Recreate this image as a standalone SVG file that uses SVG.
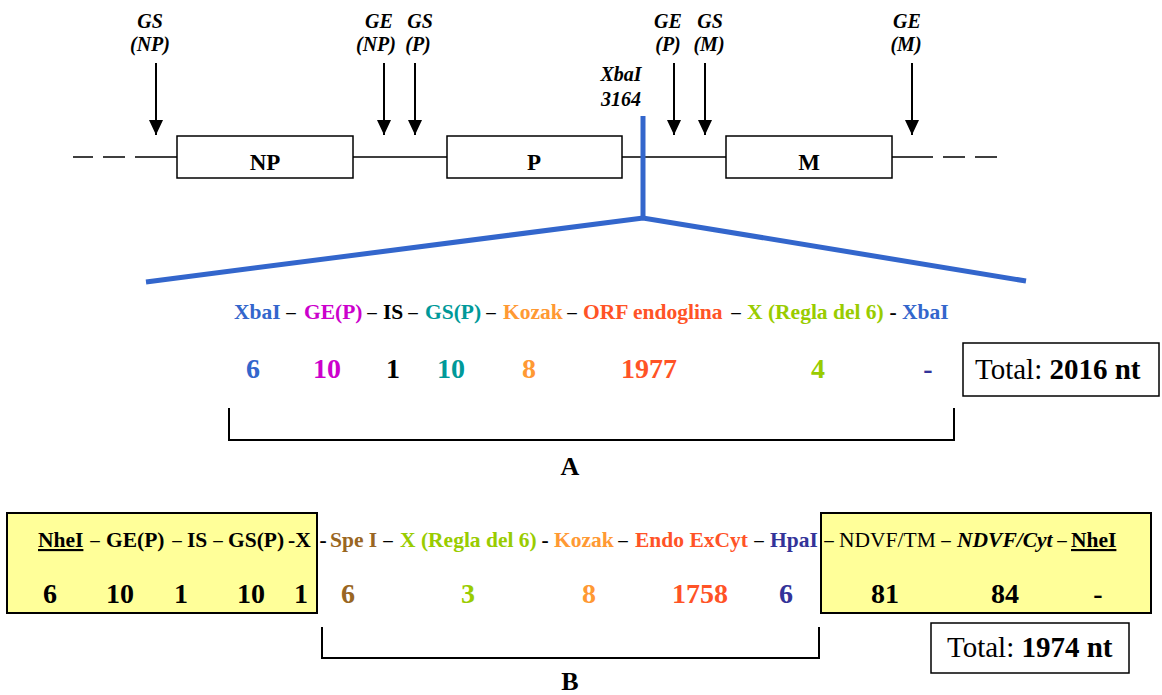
<svg xmlns="http://www.w3.org/2000/svg" width="1162" height="695" viewBox="0 0 1162 695">
<defs>
<style>
text{font-family:"Liberation Serif","Times New Roman",serif;font-weight:bold;}
.lab{font-size:20px;font-style:italic;text-anchor:middle;}
.gene{font-size:23px;text-anchor:middle;}
.seq{font-size:21.5px;}
.d{text-anchor:middle;font-size:19px;}
.h{text-anchor:middle;}
.num{font-size:28px;text-anchor:middle;}
.tot{font-size:29px;}
.reg{font-weight:normal;}
.box{fill:#fff;stroke:#000;stroke-width:1.5;}
.ybox{fill:#FFFF99;stroke:#000;stroke-width:2;}
.ln{stroke:#000;stroke-width:1.5;fill:none;}
.br{stroke:#000;stroke-width:2;fill:none;}
.blue{stroke:#3366CC;stroke-width:5;fill:none;}
.shaft{stroke:#000;stroke-width:2;}
.k{fill:#000;}
.c-blue{fill:#3366CC;}
.c-mag{fill:#CC00CC;}
.c-teal{fill:#009999;}
.c-or{fill:#FF9933;}
.c-red{fill:#FF5326;}
.c-grn{fill:#99CC00;}
.c-navy{fill:#333399;}
.c-brn{fill:#996622;}
</style>
<marker id="ah" viewBox="0 0 15 14" refX="15" refY="7" markerWidth="15" markerHeight="14" markerUnits="userSpaceOnUse" orient="auto">
<path d="M0,0 L15,7 L0,14 Z" fill="#000"/>
</marker>
</defs>

<g id="connectors">
<path class="ln" d="M73,157 H93 M103,157 H125 M135,157 H177 M353,157 H447 M622,157 H726 M892,157 H933 M943,157 H965 M975,157 H997"/>
<path class="shaft" d="M156,63 V135" marker-end="url(#ah)"/>
<path class="shaft" d="M384,63 V135" marker-end="url(#ah)"/>
<path class="shaft" d="M415,63 V135" marker-end="url(#ah)"/>
<path class="shaft" d="M674,63 V135" marker-end="url(#ah)"/>
<path class="shaft" d="M705,63 V135" marker-end="url(#ah)"/>
<path class="shaft" d="M912,63 V135" marker-end="url(#ah)"/>
<path class="blue" d="M643,116 V218"/>
<path class="blue" d="M146,282 L643,218 L1026,281"/>
<path class="br" d="M229,408 V440 H954 V408"/>
<path class="br" d="M322,627 V658 H819 V627"/>
</g>

<g id="genome-labels">
<text class="lab" x="150" y="28">GS</text>
<text class="lab" x="150" y="51">(NP)</text>
<text class="lab" x="379" y="28">GE</text>
<text class="lab" x="376" y="51">(NP)</text>
<text class="lab" x="420" y="28">GS</text>
<text class="lab" x="418" y="51">(P)</text>
<text class="lab" x="668" y="28">GE</text>
<text class="lab" x="668" y="51">(P)</text>
<text class="lab" x="710" y="28">GS</text>
<text class="lab" x="709" y="51">(M)</text>
<text class="lab" x="907" y="28">GE</text>
<text class="lab" x="906" y="51">(M)</text>
<text class="lab" x="621" y="81">XbaI</text>
<text class="lab" x="621" y="106">3164</text>
</g>

<g id="node-NP">
<rect class="box" x="177" y="136" width="176" height="42"/>
<text class="gene" x="265" y="170">NP</text>
</g>
<g id="node-P">
<rect class="box" x="447" y="136" width="175" height="42"/>
<text class="gene" x="534" y="170">P</text>
</g>
<g id="node-M">
<rect class="box" x="726" y="136" width="166" height="42"/>
<text class="gene" x="809" y="170">M</text>
</g>

<g id="construct-A">
<text class="seq c-blue" x="234" y="319">XbaI</text>
<text class="seq k d" x="291" y="318">–</text>
<text class="seq c-mag" x="304" y="319">GE(P)</text>
<text class="seq k d" x="372" y="318">–</text>
<text class="seq k" x="383" y="319">IS</text>
<text class="seq k d" x="413" y="318">–</text>
<text class="seq c-teal" x="425" y="319">GS(P)</text>
<text class="seq k d" x="491" y="318">–</text>
<text class="seq c-or" x="503" y="319">Kozak</text>
<text class="seq k d" x="572" y="318">–</text>
<text class="seq c-red" x="583" y="319">ORF endoglina</text>
<text class="seq k d" x="736" y="318">–</text>
<text class="seq c-grn" x="747" y="319">X (Regla del 6)</text>
<text class="seq k h" x="893" y="319">-</text>
<text class="seq c-blue" x="902" y="319">XbaI</text>

<text class="num c-blue" x="253" y="378">6</text>
<text class="num c-mag" x="327" y="378">10</text>
<text class="num k" x="393" y="378">1</text>
<text class="num c-teal" x="451" y="378">10</text>
<text class="num c-or" x="529" y="378">8</text>
<text class="num c-red" x="649" y="378">1977</text>
<text class="num c-grn" x="818" y="378">4</text>
<text class="num c-navy" x="928" y="378">-</text>

<text class="num k" x="570" y="475" style="font-size:26px">A</text>
</g>

<g id="total-A">
<rect class="box" x="963" y="343" width="196" height="53"/>
<text class="tot" x="975" y="379"><tspan class="reg">Total: </tspan>2016 nt</text>
</g>

<g id="construct-B-left">
<rect class="ybox" x="7" y="513" width="310" height="100"/>
</g>
<g id="construct-B-right">
<rect class="ybox" x="821" y="513" width="330" height="100"/>
</g>

<g id="construct-B">
<text class="seq k" x="38" y="547" text-decoration="underline">NheI</text>
<text class="seq k d" x="95" y="546">–</text>
<text class="seq k" x="106" y="547">GE(P)</text>
<text class="seq k d" x="177" y="546">–</text>
<text class="seq k" x="187" y="547">IS</text>
<text class="seq k d" x="218" y="546">–</text>
<text class="seq k" x="228" y="547">GS(P)</text>
<text class="seq k" x="288" y="547">-X</text>
<text class="seq k h" x="323" y="547">-</text>
<text class="seq c-brn" x="330" y="547">Spe I</text>
<text class="seq k d" x="388" y="546">–</text>
<text class="seq c-grn" x="400" y="547">X (Regla del 6)</text>
<text class="seq k h" x="545" y="547">-</text>
<text class="seq c-or" x="554" y="547">Kozak</text>
<text class="seq k d" x="623" y="546">–</text>
<text class="seq c-red" x="635" y="547">Endo ExCyt</text>
<text class="seq k d" x="759" y="546">–</text>
<text class="seq c-navy" x="770" y="547">HpaI</text>
<text class="seq k d" x="829" y="546">–</text>
<text class="seq k reg" x="839" y="547">NDVF/TM</text>
<text class="seq k d" x="946" y="546">–</text>
<text class="seq k" x="957" y="547" font-style="italic">NDVF/Cyt</text>
<text class="seq k d" x="1062" y="546">–</text>
<text class="seq k" x="1071" y="547" text-decoration="underline">NheI</text>

<text class="num k" x="50" y="603">6</text>
<text class="num k" x="120" y="603">10</text>
<text class="num k" x="181" y="603">1</text>
<text class="num k" x="251" y="603">10</text>
<text class="num k" x="301" y="603">1</text>
<text class="num c-brn" x="348" y="603">6</text>
<text class="num c-grn" x="468" y="603">3</text>
<text class="num c-or" x="589" y="603">8</text>
<text class="num c-red" x="700" y="603">1758</text>
<text class="num c-navy" x="786" y="603">6</text>
<text class="num k" x="885" y="603">81</text>
<text class="num k" x="1005" y="603">84</text>
<text class="num k" x="1098" y="603">-</text>

<text class="num k" x="570" y="690" style="font-size:26px">B</text>
</g>

<g id="total-B">
<rect class="box" x="931" y="623" width="198" height="50"/>
<text class="tot" x="947" y="657"><tspan class="reg">Total: </tspan>1974 nt</text>
</g>
</svg>
